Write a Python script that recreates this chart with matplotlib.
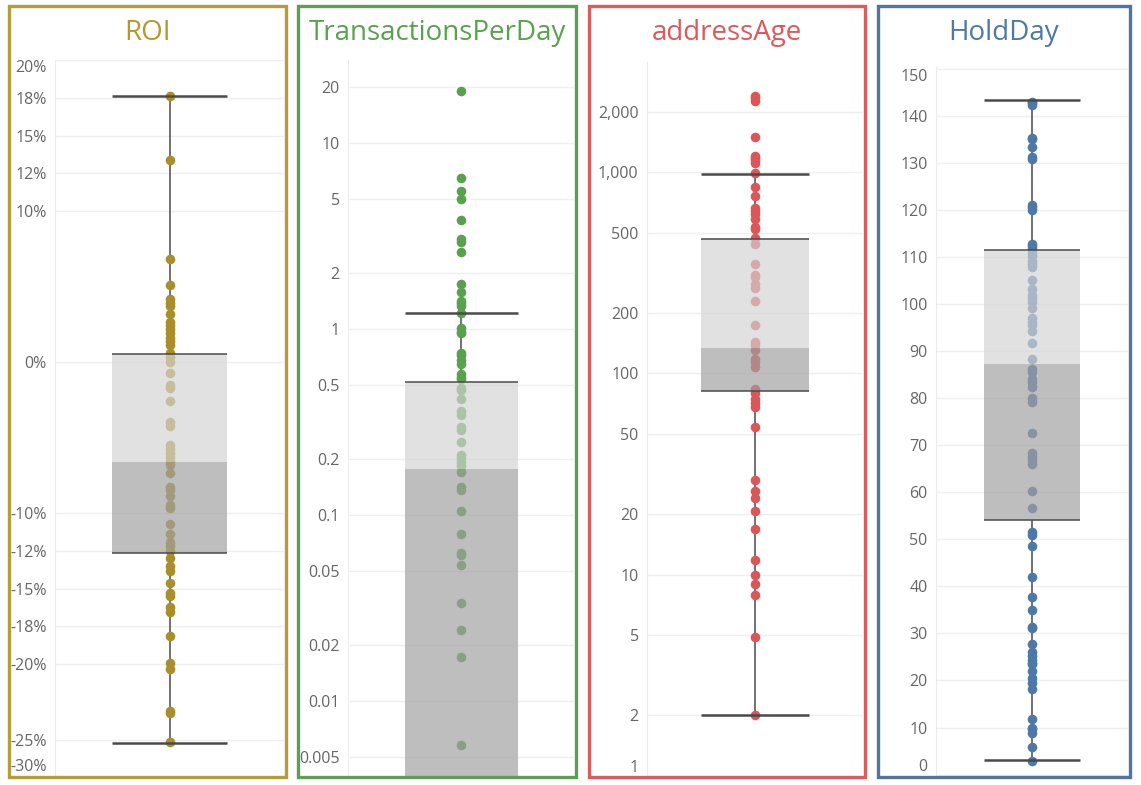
import matplotlib
matplotlib.use("Agg")
import matplotlib.pyplot as plt
from matplotlib.patches import Rectangle
from matplotlib.ticker import FixedLocator, FixedFormatter, NullLocator

plt.rcParams["font.family"] = ["Open Sans", "DejaVu Sans"]

W, H = 1141, 785

# values
roi = [17.6, 13.4, 6.8, 5.1, 4.15, 3.9, 3.7, 3.2, 2.65, 2.45, 2.2, 1.95, 1.6, 1.4, 1.1,
       0.6, 0.3, 0.0, -0.7, -1.5, -1.75, -2.6, -3.95, -4.25, -5.5, -5.75, -6.0, -6.3,
       -6.55, -6.8, -7.35, -8.25, -8.5, -8.85, -9.45, -9.7, -10.75, -11.4, -11.9, -12.2,
       -12.5, -12.95, -13.5, -13.85, -14.65, -15.3, -15.5, -16.25, -16.55, -18.15,
       -19.9, -20.35, -23.1, -23.25, -25.15]
roi_box = [-25.2, -12.65, -6.6, 0.5, 17.6]  # lower whisker, q1, median, q3, upper whisker

tx_per_day = [18.9, 6.5, 5.5, 5.0, 3.87, 3.05, 2.94, 2.6, 1.75, 1.58, 1.41, 1.38, 1.33,
              1.22, 1.01, 0.96, 0.95, 0.74, 0.72, 0.68, 0.65, 0.57, 0.55, 0.54, 0.48,
              0.47, 0.42, 0.36, 0.345, 0.297, 0.286, 0.247, 0.21, 0.202, 0.193, 0.183,
              0.17, 0.142, 0.136, 0.105, 0.079, 0.0625, 0.061, 0.054, 0.0337, 0.0241,
              0.0172, 0.0058]
tx_box = [0.001, 0.0025, 0.177, 0.519, 1.22]  # q1 and lower whisker fall below the axis

address_age = [2380, 2330, 2265, 1500, 1200, 1175, 1145, 1105, 985, 845, 760, 665, 642,
               623, 588, 535, 520, 473, 442, 351, 310, 302, 279, 267, 229, 175, 143, 138,
               131, 118, 114, 108, 84, 80, 75, 71, 68, 54, 29.7, 26.2, 24, 20.8, 16.8,
               11.9, 10, 9, 7.9, 4.9, 2]
age_box = [2, 82, 133, 464, 977]

hold_day = [143, 142.7, 142.3, 135.3, 135, 133.3, 131.3, 130.8, 121, 120.6, 120.1, 112.8,
            112.4, 111.8, 110.9, 110.2, 109.2, 108.5, 107.9, 105.1, 103.2, 101.9, 101.2,
            100.4, 99.1, 97, 96.3, 95.6, 94.3, 91.7, 88.3, 86.3, 85.5, 84.1, 83.4, 82.3,
            80.0, 79.3, 72.5, 68.4, 67.5, 66.8, 66.1, 60.2, 56.6, 51.5, 50.9, 48.6, 41.9,
            37.7, 35, 31.3, 31.1, 27.8, 26.1, 25.3, 24.4, 23.7, 23.4, 22, 20.6, 19.5,
            18.1, 11.9, 10, 9.6, 8.9, 5.9, 2.9]
hold_box = [3.0, 54.2, 87.3, 111.4, 143.3]

roi_ticks = [20, 17.5, 15, 12.5, 10, 0, -10, -12.5, -15, -17.5, -20, -25]
tx_ticks = [0.005, 0.01, 0.02, 0.05, 0.1, 0.2, 0.5, 1, 2, 5, 10, 20]
tx_labels = ["0.005", "0.01", "0.02", "0.05", "0.1", "0.2", "0.5", "1", "2", "5", "10", "20"]
age_ticks = [1, 2, 5, 10, 20, 50, 100, 200, 500, 1000, 2000]
hold_ticks = list(range(0, 151, 10))

BOX_LIGHT = "#d4d4d4"
BOX_DARK = "#a0a0a0"
LINE = "#4a4a4a"
TICK_SIZE = 11.5


def draw_panel(ax, values, box, color):
    lo, q1, med, q3, hi = box
    ax.set_xlim(-1, 1)
    ax.vlines(0, q3, hi, color=LINE, lw=1.1, zorder=1)
    ax.vlines(0, lo, q1, color=LINE, lw=1.1, zorder=1)
    ax.scatter([0] * len(values), values, s=48, color=color, linewidths=0, zorder=2)
    # tableau draws the bands over the marks
    ax.fill_between([-0.5, 0.5], med, q3, color=BOX_LIGHT, alpha=0.68, lw=0, zorder=3)
    ax.fill_between([-0.5, 0.5], q1, med, color=BOX_DARK, alpha=0.68, lw=0, zorder=3)
    ax.hlines([q3, q1], -0.5, 0.5, color=LINE, lw=1.1, zorder=4)
    ax.hlines([hi, lo], -0.5, 0.5, color=LINE, lw=1.8, zorder=4)

    for s in ["top", "right", "bottom"]:
        ax.spines[s].set_visible(False)
    ax.spines["left"].set_color("#ececec")
    ax.set_xticks([])
    ax.yaxis.set_minor_locator(NullLocator())
    ax.grid(axis="y", color="#efefef", lw=1)
    ax.set_axisbelow(True)
    ax.tick_params(axis="y", length=0, pad=6, labelsize=TICK_SIZE, labelcolor="#666666")


def add_axes_px(x0, y0, x1, y1):
    return fig.add_axes([x0 / W, 1 - y1 / H, (x1 - x0) / W, (y1 - y0) / H])


fig = plt.figure(figsize=(W / 100, H / 100), dpi=100)

panels = [
    ("ROI", "#b3982f", "#a98f2b", "#b59d3c", (9, 6, 286, 777), (55, 60, 284, 775)),
    ("TransactionsPerDay", "#59a14f", "#59a14f", "#5f9c55", (298, 6, 576, 777), (348, 60, 574, 775)),
    ("addressAge", "#e15759", "#dc5557", "#dc5b5d", (589, 6, 865, 777), (647, 62, 863, 776)),
    ("HoldDay", "#4e79a7", "#4e79a7", "#52759f", (878, 6, 1130, 777), (936, 67, 1128, 776)),
]

axes = []
for title, tcol, pcol, bcol, border, box_px in panels:
    bx0, by0, bx1, by1 = border
    fig.add_artist(Rectangle((bx0 / W, 1 - by1 / H), (bx1 - bx0) / W, (by1 - by0) / H,
                             transform=fig.transFigure, fill=False, ec=bcol, lw=2.4))
    fig.text((bx0 + bx1) / 2 / W, 1 - 33 / H, title, color=tcol, fontsize=20,
             ha="center", va="center")
    axes.append(add_axes_px(*box_px))

ax_roi, ax_tx, ax_age, ax_hold = axes

# ROI
draw_panel(ax_roi, roi, roi_box, panels[0][2])
ax_roi.set_ylim(-27.35, 20)
ax_roi.yaxis.set_major_locator(FixedLocator(roi_ticks))
ax_roi.yaxis.set_major_formatter(FixedFormatter([f"{round(v)}%" for v in roi_ticks]))
ax_roi.text(-0.035, 0, "-30%", transform=ax_roi.transAxes, ha="right", va="bottom",
            fontsize=TICK_SIZE, color="#666666")

# TransactionsPerDay
ax_tx.set_yscale("log")
draw_panel(ax_tx, tx_per_day, tx_box, panels[1][2])
ax_tx.set_ylim(0.004, 27.9)
ax_tx.yaxis.set_major_locator(FixedLocator(tx_ticks))
ax_tx.yaxis.set_major_formatter(FixedFormatter(tx_labels))

# addressAge
ax_age.set_yscale("log")
draw_panel(ax_age, address_age, age_box, panels[2][2])
ax_age.set_ylim(1, 3525)
ax_age.yaxis.set_major_locator(FixedLocator(age_ticks))
ax_age.yaxis.set_major_formatter(FixedFormatter([f"{v:,}" for v in age_ticks]))

# HoldDay
draw_panel(ax_hold, hold_day, hold_box, panels[3][2])
ax_hold.set_ylim(-0.3, 150.4)
ax_hold.yaxis.set_major_locator(FixedLocator(hold_ticks))
ax_hold.yaxis.set_major_formatter(FixedFormatter([str(v) for v in hold_ticks]))

# labels sitting on the axis edge get pushed inside, like tableau does
fig.canvas.draw()
ax_roi.yaxis.get_major_ticks()[0].label1.set_va("top")
ax_age.yaxis.get_major_ticks()[0].label1.set_va("bottom")
ax_hold.yaxis.get_major_ticks()[0].label1.set_va("bottom")
ax_hold.yaxis.get_major_ticks()[-1].label1.set_va("top")

fig.savefig("out.png", dpi=100)
